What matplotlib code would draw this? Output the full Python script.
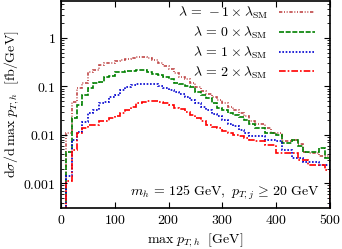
import numpy as np
import matplotlib
matplotlib.use("Agg")
import matplotlib.pyplot as plt
from matplotlib.ticker import FixedLocator, LogLocator, NullFormatter

plt.rcParams['mathtext.fontset'] = 'cm'
plt.rcParams['font.family'] = ['DejaVu Serif']

# bin edges (GeV)
edges = np.arange(0, 510, 10)

lam_m1 = [1e-6, 0.011, 0.048, 0.093, 0.118, 0.20, 0.22, 0.28, 0.30, 0.31,
          0.33, 0.35, 0.36, 0.38, 0.41, 0.40, 0.38, 0.35, 0.31, 0.26,
          0.23, 0.19, 0.16, 0.14, 0.12, 0.095, 0.08, 0.07, 0.06, 0.053,
          0.045, 0.038, 0.033, 0.028, 0.024, 0.019, 0.017, 0.017, 0.014, 0.011,
          0.011, 0.0073, 0.0073, 0.0079, 0.0065, 0.0045, 0.0042, 0.0042, 0.0036, 0.0036]
lam_0 = [1e-6, 0.0045, 0.022, 0.042, 0.067, 0.093, 0.118, 0.124, 0.157, 0.165,
         0.20, 0.20, 0.21, 0.21, 0.22, 0.22, 0.20, 0.18, 0.17, 0.16,
         0.14, 0.116, 0.11, 0.10, 0.099, 0.075, 0.065, 0.057, 0.045, 0.035,
         0.032, 0.028, 0.026, 0.023, 0.020, 0.017, 0.0138, 0.0138, 0.011, 0.011,
         0.010, 0.0067, 0.0067, 0.0079, 0.0058, 0.0045, 0.0045, 0.0045, 0.0053, 0.0033]
lam_1 = [1e-6, 0.0014, 0.008, 0.0115, 0.018, 0.028, 0.033, 0.045, 0.048, 0.06,
         0.068, 0.085, 0.098, 0.105, 0.111, 0.112, 0.111, 0.11, 0.10, 0.092,
         0.085, 0.078, 0.07, 0.06, 0.052, 0.045, 0.038, 0.032, 0.027, 0.024,
         0.02, 0.017, 0.015, 0.0126, 0.011, 0.0095, 0.0093, 0.0093, 0.0079, 0.0079,
         0.0073, 0.0049, 0.0049, 0.0033, 0.0033, 0.0028, 0.0028, 0.0028, 0.0024, 0.0024]
lam_2 = [1e-6, 0.0011, 0.0049, 0.011, 0.014, 0.016, 0.016, 0.019, 0.019, 0.022,
         0.024, 0.028, 0.033, 0.038, 0.045, 0.047, 0.049, 0.049, 0.047, 0.045,
         0.042, 0.036, 0.034, 0.03, 0.026, 0.022, 0.019, 0.016, 0.0145, 0.0137,
         0.012, 0.011, 0.01, 0.0095, 0.0085, 0.0078, 0.0073, 0.0073, 0.0062, 0.0062,
         0.0042, 0.0042, 0.0042, 0.0042, 0.003, 0.003, 0.0024, 0.0024, 0.0024, 0.0019]

labels = [r'$\lambda\, =\, -1 \times \lambda_{\rm SM}$',
          r'$\lambda\, =\, 0 \times \lambda_{\rm SM}$',
          r'$\lambda\, =\, 1 \times \lambda_{\rm SM}$',
          r'$\lambda\, =\, 2 \times \lambda_{\rm SM}$']
colors = ['#c04848', '#008000', '#0000d0', '#ff0000']
styles = [(0, (2, 1, 0.6, 1, 0.6, 1)), (0, (3, 1)), (0, (1, 1)), (0, (4, 1.2, 1, 1.2))]

ytick_vals = [0.001, 0.01, 0.1, 1]
ytick_labels = ['0.001', '0.01', '0.1', '1']
xtick_vals = [0, 100, 200, 300, 400, 500]

fig = plt.figure(figsize=(3.42, 2.49), dpi=100)
ax = fig.add_axes([0.178, 0.165, 0.787, 0.831])

for vals, lab, c, ls in zip([lam_m1, lam_0, lam_1, lam_2], labels, colors, styles):
    ax.stairs(vals, edges, baseline=1e-6, color=c, linestyle=ls, linewidth=1.2, label=lab)

ax.set_yscale('log')
ax.set_xlim(0, 500)
ax.set_ylim(3.1e-4, 5.8)

ax.yaxis.set_major_locator(FixedLocator(ytick_vals))
ax.set_yticklabels(['$' + t + '$' for t in ytick_labels])
ax.yaxis.set_minor_locator(LogLocator(base=10, subs=np.arange(2, 10)))
ax.yaxis.set_minor_formatter(NullFormatter())
ax.xaxis.set_major_locator(FixedLocator(xtick_vals))
ax.set_xticklabels(['$%d$' % v for v in xtick_vals])

ax.tick_params(which='both', direction='in', top=True, right=True, labelsize=10, colors='black')
ax.tick_params(which='major', length=4, width=0.8)
ax.tick_params(which='minor', length=2, width=0.6)
for s in ax.spines.values():
    s.set_linewidth(1.2)

ax.set_xlabel(r'$\max\;p_{T,h}\ \ [\mathrm{GeV}]$', fontsize=10, labelpad=3)
ax.set_ylabel(r'$\mathrm{d}\sigma/\mathrm{d}\,\max\;p_{T,h}\ \ [\mathrm{fb/GeV}]$', fontsize=10, labelpad=2)

ax.text(0.61, 0.03, r'$m_h\, =\, 125\ \mathrm{GeV},\ p_{T,j}\, \geq\, 20\ \mathrm{GeV}$',
        transform=ax.transAxes, ha='center', va='bottom', fontsize=10)

ax.legend(loc='upper right', bbox_to_anchor=(0.955, 0.995), frameon=False, markerfirst=False,
          fontsize=10, handlelength=2.6, labelspacing=0.25, borderaxespad=0.0,
          handletextpad=0.8, borderpad=0.2)

fig.savefig('out.png', dpi=100)
